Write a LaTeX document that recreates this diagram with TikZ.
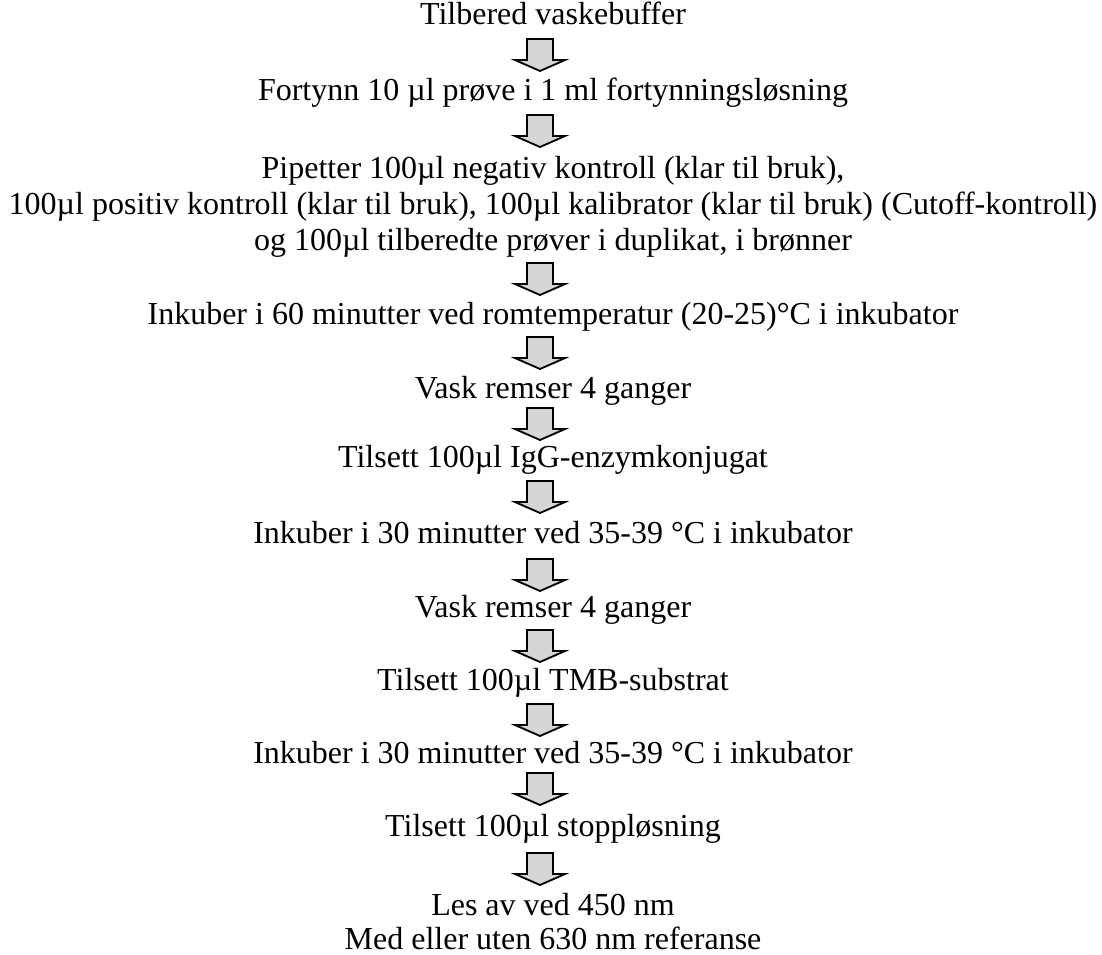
\documentclass[tikz,border=0pt]{standalone}
\usepackage{fontspec}
\setmainfont{Liberation Serif}
\begin{document}
\begin{tikzpicture}[x=0.75pt,y=-0.75pt,
  txt/.style={anchor=base,inner sep=0pt,outer sep=0pt,font=\fontsize{24}{27}\selectfont},
  arrowstyle/.style={draw=black,fill=black!16,line width=1.4pt,line join=miter},
  darrow/.pic={\draw[arrowstyle] (-13,0) -- (13,0) -- (13,21) -- (25,21) -- (0,32) -- (-25,21) -- (-13,21) -- cycle;}]
\useasboundingbox (0,0) rectangle (1102,955);
\node[txt] (s1) at (553,25) {Tilbered vaskebuffer};
\node[txt] (s2) at (553,101) {Fortynn 10 µl prøve i 1 ml fortynningsløsning};
\node[txt] (s3a) at (553,179) {Pipetter 100µl negativ kontroll (klar til bruk),};
\node[txt] (s3b) at (553,215) {100µl positiv kontroll (klar til bruk), 100µl kalibrator (klar til bruk) (Cutoff-kontroll)};
\node[txt] (s3c) at (553,251) {og 100µl tilberedte prøver i duplikat, i brønner};
\node[txt] (s4) at (553,325) {Inkuber i 60 minutter ved romtemperatur (20-25)°C i inkubator};
\node[txt] (s5) at (553,398) {Vask remser 4 ganger};
\node[txt] (s6) at (553,467) {Tilsett 100µl IgG-enzymkonjugat};
\node[txt] (s7) at (553,543) {Inkuber i 30 minutter ved 35-39 °C i inkubator};
\node[txt] (s8) at (553,617) {Vask remser 4 ganger};
\node[txt] (s9) at (553,690) {Tilsett 100µl TMB-substrat};
\node[txt] (s10) at (553,763) {Inkuber i 30 minutter ved 35-39 °C i inkubator};
\node[txt] (s11) at (553,836) {Tilsett 100µl stoppløsning};
\node[txt] (s12a) at (553,915) {Les av ved 450 nm};
\node[txt] (s12b) at (553,949) {Med eller uten 630 nm referanse};
\pic at (540,39) {darrow};
\pic at (540,115) {darrow};
\pic at (540,263) {darrow};
\pic at (540,337) {darrow};
\pic at (540,408) {darrow};
\pic at (540,481) {darrow};
\pic at (540,559) {darrow};
\pic at (540,630) {darrow};
\pic at (540,704) {darrow};
\pic at (540,773) {darrow};
\pic at (540,853) {darrow};
\end{tikzpicture}
\end{document}
